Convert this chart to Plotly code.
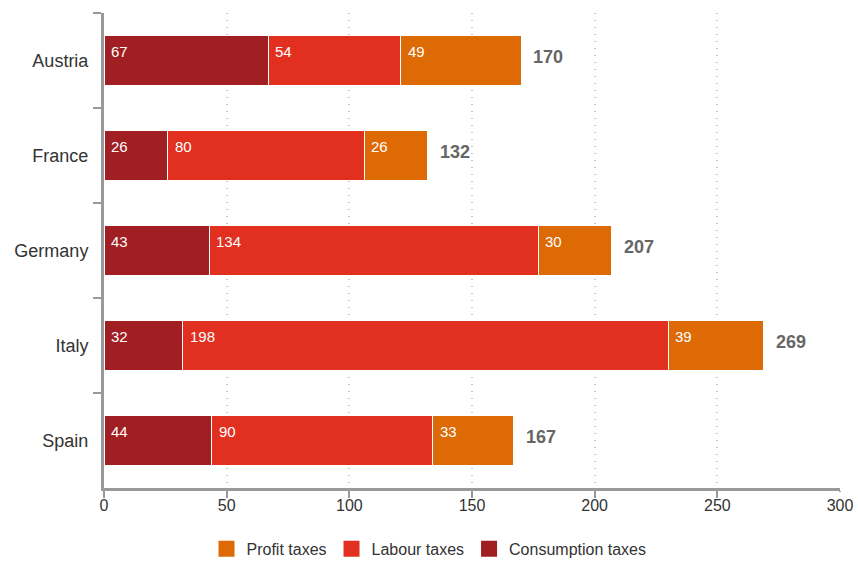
import plotly.graph_objects as go

countries = ["Austria", "France", "Germany", "Italy", "Spain"]
consumption = [67, 26, 43, 32, 44]
labour = [54, 80, 134, 198, 90]
profit = [49, 26, 30, 39, 33]
totals = [170, 132, 207, 269, 167]

series = [
    ("Consumption taxes", consumption, "#A11E22"),
    ("Labour taxes", labour, "#E1301F"),
    ("Profit taxes", profit, "#DD6A05"),
]

FONT = "Liberation Sans, Arial"

fig = go.Figure()
for name, vals, color in series:
    fig.add_trace(go.Bar(
        y=countries, x=vals, name=name, orientation="h",
        marker=dict(color=color, line=dict(color="white", width=1)),
        hoverinfo="x+name", showlegend=False,
    ))

# legend entries with larger square swatches
for name, vals, color in series:
    fig.add_trace(go.Scatter(
        x=[None], y=[None], mode="markers", name=name,
        marker=dict(symbol="square", size=22, color=color),
        showlegend=True,
    ))

# value labels in the top-left corner of each segment
annotations = []
starts = [0] * len(countries)
for name, vals, color in series:
    for i, c in enumerate(countries):
        annotations.append(dict(
            x=starts[i], y=c, text=str(vals[i]), showarrow=False,
            xanchor="left", yanchor="middle", xshift=5, yshift=9,
            font=dict(family=FONT, size=15, color="white"),
        ))
        starts[i] += vals[i]

# bold totals to the right of each bar
for c, t in zip(countries, totals):
    annotations.append(dict(
        x=t, y=c, text=f"<b>{t}</b>", showarrow=False,
        xanchor="left", yanchor="middle", xshift=10, yshift=4,
        font=dict(family=FONT, size=18, color="#666666"),
    ))

fig.update_layout(
    barmode="stack",
    bargap=0.47,
    width=858, height=563,
    margin=dict(l=104, r=18, t=13, b=75, autoexpand=False),
    plot_bgcolor="white", paper_bgcolor="white",
    font=dict(family=FONT, color="#333333"),
    annotations=annotations,
    legend=dict(
        orientation="h", xref="container", x=0.5, xanchor="center",
        yref="container", y=0.025, yanchor="middle",
        traceorder="reversed", font=dict(family=FONT, size=16, color="#333333"),
        itemsizing="trace",
    ),
    xaxis=dict(
        range=[0, 300], dtick=50, showgrid=True, gridcolor="#c4c4c4",
        griddash="1px,6px", gridwidth=1.5, zeroline=False,
        showline=True, linecolor="#999999", linewidth=3,
        ticks="outside", ticklen=1, tickwidth=2, tickcolor="#999999",
        tickfont=dict(family="Liberation Sans Narrow, Arial Narrow, Liberation Sans", size=16, color="#333333"),
        minor=dict(ticks="outside", ticklen=7, tickwidth=2, tickcolor="#999999",
                   tick0=0.05, dtick=50, showgrid=False),
        fixedrange=True,
    ),
    yaxis=dict(
        autorange="reversed", showgrid=False,
        showline=True, linecolor="#999999", linewidth=3,
        ticks="outside", tickson="boundaries", ticklen=8, tickwidth=2,
        tickcolor="#999999",
        tickfont=dict(family=FONT, size=18, color="#333333"),
        ticklabelstandoff=9,
    ),
)

fig.write_html("out.html")
